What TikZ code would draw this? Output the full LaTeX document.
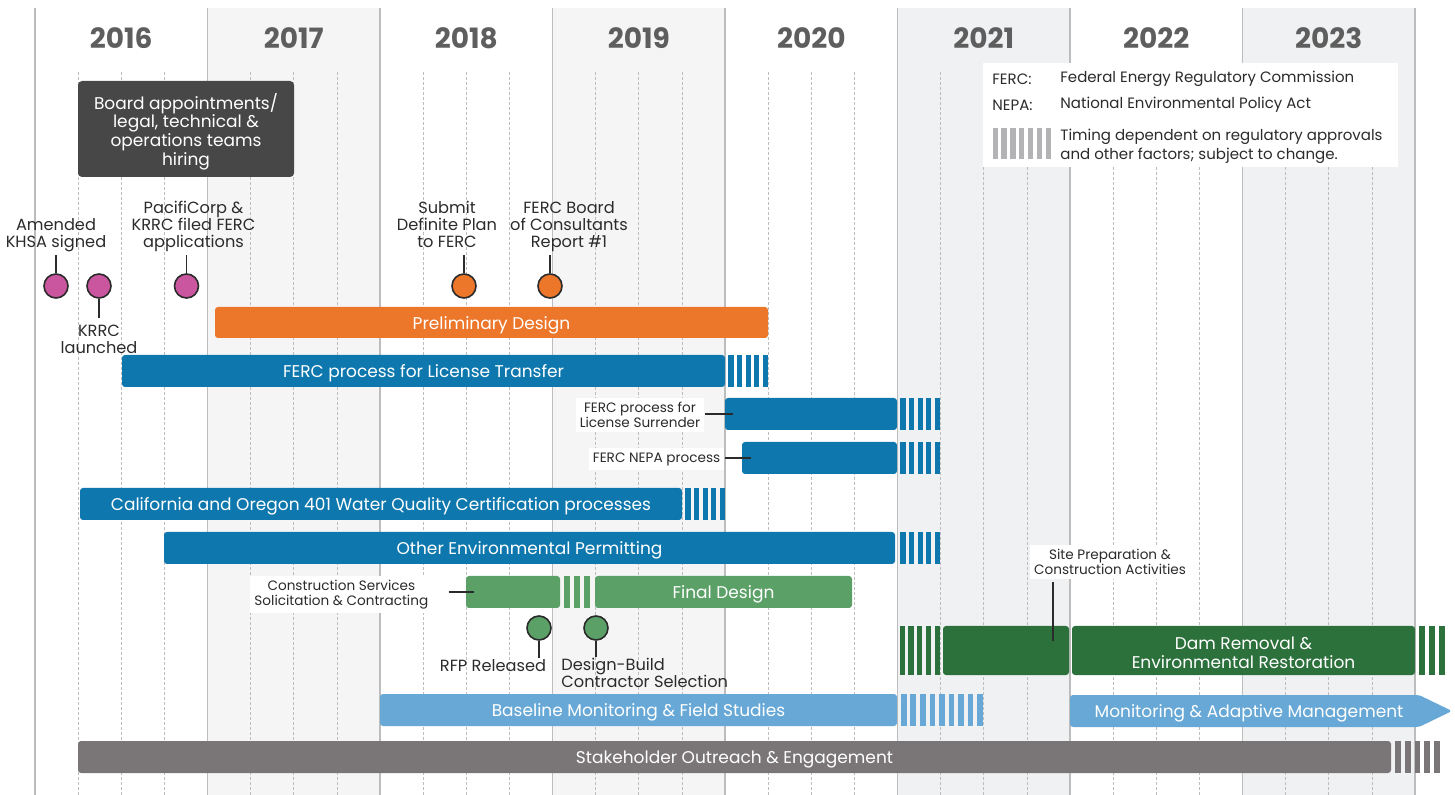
\documentclass[tikz,border=0pt]{standalone}
\usepackage{fontspec}
\setmainfont{Poppins}
\usetikzlibrary{positioning}

\definecolor{tlorange}{HTML}{EC7629}
\definecolor{tlblue}{HTML}{0E78AE}
\definecolor{tllightblue}{HTML}{67A8D6}
\definecolor{tlgreen}{HTML}{5BA066}
\definecolor{tldarkgreen}{HTML}{2C703C}
\definecolor{tlgray}{HTML}{7A7677}
\definecolor{boardgray}{HTML}{474747}
\definecolor{tlmagenta}{HTML}{CB56A0}
\definecolor{yeargray}{HTML}{5E5E5E}
\definecolor{ink}{HTML}{2B2B2B}
\definecolor{shadeA}{HTML}{F5F5F5}
\definecolor{shadeB}{HTML}{F0F1F3}
\definecolor{gridgray}{HTML}{BDBDBD}
\definecolor{legendgray}{HTML}{B3B3B5}

\newcommand{\tlbarfont}{\fontsize{8.5}{9.4}\selectfont}
\newcommand{\tlmsfont}{\fontsize{8.1}{8.6}\selectfont}
\newcommand{\tlsidefont}{\fontsize{6.8}{7.5}\selectfont}
\newcommand{\tllegfont}{\fontsize{7.5}{9.5}\selectfont}

\tikzset{%
	yearlabel/.style  = {font=\fontsize{14}{16}\selectfont\bfseries, text=yeargray}, % Year
	yearline/.style   = {draw=gridgray, line width=0.6pt},
	quarterline/.style= {draw=gridgray, line width=0.35pt, dash pattern=on 1.5pt off 1pt},
	tlbarstyle/.style = {rectangle, rounded corners=1.5pt, inner sep=0pt}, % Bar
	bartext/.style    = {text=white, font=\tlbarfont, align=center, inner sep=0pt},
	milestone/.style  = {draw=ink, circle, line width=0.8pt, minimum size=12pt, inner sep=0pt}, % Milestone
	mslabel/.style    = {font=\tlmsfont, text=ink, align=center, inner sep=1.5pt},
	sidelabel/.style  = {fill=white, font=\tlsidefont, text=ink, align=center, inner sep=2pt},
	leader/.style     = {draw=ink, line width=0.6pt},
	legendtext/.style = {font=\tllegfont, text=ink, anchor=west, inner sep=0pt, align=left},
}

% colour, x from, x to, y top, y bottom, count
\newcommand{\stripes}[6]{%
	\pgfmathsetmacro{\stripw}{(#3-#2)/#6}
	\foreach \s in {1,...,#6}
		{\fill [#1] ({#2+(\s-0.6)*\stripw},#4) rectangle ({#2+\s*\stripw},#5);}
}
% name, colour, x from, x to, y top, y bottom, text
\newcommand{\tlbar}[7]{%
	\node [tlbarstyle, fill=#2, minimum width={(#4-#3)*0.5pt}, minimum height={(#6-#5)*0.5pt}] (#1) at ({(#3+#4)/2},{(#5+#6)/2}) {};
	\node [bartext] (#1txt) at ([yshift=-1.3pt]#1.center) {#7};
}

\begin{document}
\begin{tikzpicture}[x=0.5pt,y=-0.5pt]
	\useasboundingbox (0,0) rectangle (1455,795);

	% grid
	\foreach \i/\c in {1/shadeA,3/shadeA,5/shadeB,7/shadeB}
		\fill [\c] ({35+172.5*\i},8) rectangle ({35+172.5*(\i+1)},795);
	\foreach \i in {0,...,7}
		\foreach \q in {1,2,3}
			\draw [quarterline] ({35+172.5*\i+43.125*\q},72) -- ({35+172.5*\i+43.125*\q},795);
	\foreach \i in {0,...,8}
		\draw [yearline] ({35+172.5*\i},8) -- ({35+172.5*\i},795);
	\foreach \yr [count=\i from 0] in {2016,...,2023}
		\node [yearlabel] (yr\yr) at ({121.25+172.5*\i},38.5) {\yr};

	% board and legend
	\node [tlbarstyle, fill=boardgray, rounded corners=2pt, minimum width=108pt, minimum height=48pt] (board) at (186,129) {};
	\node [bartext] (boardtxt) at ([yshift=-1.3pt]board.center) {Board appointments/\\legal, technical \&\\operations teams\\hiring};
	\node [fill=white, minimum width=207.5pt, minimum height=52pt, inner sep=0pt] (legend) at (1190.5,115) {};
	\node [legendtext] (fercab) at (992,79) {FERC:};
	\node [legendtext] (fercdef) at (1060,79) {Federal Energy Regulatory Commission};
	\node [legendtext] (nepaab) at (992,105) {NEPA:};
	\node [legendtext] (nepadef) at (1060,105) {National Environmental Policy Act};
	\stripes{legendgray}{989}{1051}{128}{159}{7}
	\node [legendtext] (timing) at (1060,146.5) {Timing dependent on regulatory approvals\\and other factors; subject to change.};

	% bars
	\tlbar{prelim}{tlorange}{215}{768}{307}{338}{Preliminary Design}
	\tlbar{transfer}{tlblue}{122}{725}{355}{387}{FERC process for License Transfer}
	\stripes{tlblue}{725}{768}{355}{387}{5}
	\tlbar{surr}{tlblue}{725}{897}{398}{430}{}
	\stripes{tlblue}{897}{940}{398}{430}{5}
	\tlbar{nepa}{tlblue}{742}{897}{442}{474}{}
	\stripes{tlblue}{897}{940}{442}{474}{5}
	\tlbar{wqc}{tlblue}{80}{682}{488}{520}{California and Oregon 401 Water Quality Certification processes}
	\stripes{tlblue}{682}{725}{488}{520}{5}
	\tlbar{permit}{tlblue}{164}{895}{532}{564}{Other Environmental Permitting}
	\stripes{tlblue}{897}{940}{532}{564}{5}
	\tlbar{fda}{tlgreen}{466}{560}{576}{608}{}
	\stripes{tlgreen}{560}{590}{576}{608}{3}
	\tlbar{fdb}{tlgreen}{595}{852}{576}{608}{Final Design}
	\stripes{tldarkgreen}{896}{940}{626}{675}{5}
	\tlbar{dra}{tldarkgreen}{943}{1069}{626}{675}{}
	\tlbar{drb}{tldarkgreen}{1072}{1415}{626}{675}{Dam Removal \&\\Environmental Restoration}
	\stripes{tldarkgreen}{1415}{1445}{626}{675}{3}
	\tlbar{base}{tllightblue}{380}{897}{694}{726}{Baseline Monitoring \& Field Studies}
	\stripes{tllightblue}{897}{983}{694}{726}{9}
	\fill [tllightblue, rounded corners=1.5pt] (1070,695) -- (1419,695) -- (1452,711) -- (1419,727) -- (1070,727) -- cycle;
	\node [bartext] (mam) at (1249,713) {Monitoring \& Adaptive Management};
	\tlbar{stake}{tlgray}{78}{1391}{741}{773}{Stakeholder Outreach \& Engagement}
	\stripes{tlgray}{1391}{1440}{741}{773}{5}

	% side labels
	\node [sidelabel] (surrlbl) [left=10pt of surr, yshift=-0.5pt] {FERC process for\\License Surrender};
	\draw [leader] (surrlbl.east |- surr.west) -- ([xshift=4pt]surr.west);
	\node [sidelabel] (nepalbl) [left=8.5pt of nepa, yshift=-0.5pt] {FERC NEPA process};
	\draw [leader] (nepalbl.east |- nepa.west) -- ([xshift=4.5pt]nepa.west);
	\node [sidelabel] (cslbl) [left=16.5pt of fda, yshift=-1.2pt] {Construction Services\\Solicitation \& Contracting};
	\draw [leader] ([xshift=8pt]cslbl.east |- fda.west) -- ([xshift=4pt]fda.west);
	\node [sidelabel] (sitelbl) at (1110,562) {Site Preparation \&\\Construction Activities};
	\coordinate (siteend) at (1053,641);
	\draw [leader] ([yshift=-1.5pt]sitelbl.south -| siteend) -- (siteend);

	% milestones
	\node [milestone, fill=tlmagenta] (khsa) at (56,286) {};
	\node [mslabel] (khsalbl) [above=9pt of khsa] {Amended\\KHSA signed};
	\draw [leader] (khsa.north) -- (khsa.north |- khsalbl.south);
	\node [milestone, fill=tlmagenta] (krrc) at (99,286) {};
	\node [mslabel] (krrclbl) [below=11.5pt of krrc] {KRRC\\launched};
	\draw [leader] (krrc.south) -- ([yshift=2pt]krrc.south |- krrclbl.north);
	\node [milestone, fill=tlmagenta] (apps) at (186.5,286) {};
	\node [mslabel] (appslbl) [above=9pt of apps, xshift=3.5pt] {PacifiCorp \&\\KRRC filed FERC\\applications};
	\draw [leader] (apps.north) -- (apps.north |- appslbl.south);
	\node [milestone, fill=tlorange] (plan) at (464,286) {};
	\node [mslabel] (planlbl) [above=11pt of plan, xshift=-8.5pt] {Submit\\Definite Plan\\to FERC};
	\draw [leader] (plan.north) -- ([yshift=-2pt]plan.north |- planlbl.south);
	\node [milestone, fill=tlorange] (boc) at (550,286) {};
	\node [mslabel] (boclbl) [above=9pt of boc, xshift=9.5pt] {FERC Board\\of Consultants\\Report \#1};
	\draw [leader] (boc.north) -- (boc.north |- boclbl.south);
	\node [milestone, fill=tlgreen] (rfp) at (539,628) {};
	\node [mslabel] (rfplbl) [below=7.5pt of rfp, xshift=-23pt] {RFP Released};
	\draw [leader] (rfp.south) -- ([yshift=-1pt]rfp.south |- rfplbl.north);
	\node [milestone, fill=tlgreen] (dbc) at (596,628) {};
	\node [mslabel, align=left] (dbclbl) [below=7pt of dbc, anchor=north west, xshift=-19pt] {Design-Build\\Contractor Selection};
	\draw [leader] (dbc.south) -- ([yshift=-1pt]dbc.south |- dbclbl.north);
\end{tikzpicture}
\end{document}
